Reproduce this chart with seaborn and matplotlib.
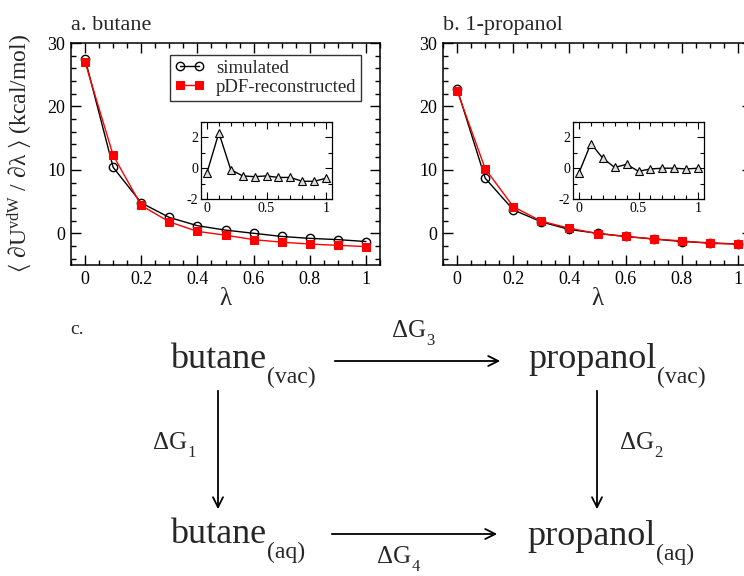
import matplotlib
matplotlib.use("Agg")
import matplotlib.pyplot as plt
import seaborn as sns
import numpy as np
import pandas as pd
from matplotlib.ticker import MultipleLocator

# ---------------- data ----------------
lam = [0.0, 0.1, 0.2, 0.3, 0.4, 0.5, 0.6, 0.7, 0.8, 0.9, 1.0]
butane_sim = [27.5, 10.4, 4.8, 2.5, 1.2, 0.5, 0.0, -0.5, -0.8, -1.0, -1.3]
butane_rec = [27.0, 12.3, 4.4, 1.8, 0.3, -0.3, -1.0, -1.4, -1.7, -1.9, -2.1]
butane_diff = [-0.3, 2.3, -0.1, -0.5, -0.55, -0.5, -0.6, -0.6, -0.85, -0.85, -0.65]
prop_sim = [22.8, 8.7, 3.7, 1.8, 0.6, 0.0, -0.5, -0.9, -1.3, -1.5, -1.7]
prop_rec = [22.5, 10.2, 4.2, 1.9, 0.8, -0.05, -0.5, -0.9, -1.2, -1.6, -1.7]
prop_diff = [-0.3, 1.6, 0.65, 0.05, 0.25, -0.2, -0.05, 0.0, 0.0, -0.05, 0.0]

panel_titles = ["a. butane", "b. 1-propanol"]
series_labels = ["simulated", "pDF-reconstructed"]
main_xticks = [0, 0.2, 0.4, 0.6, 0.8, 1.0]
main_xticklabels = ["0", "0.2", "0.4", "0.6", "0.8", "1"]
inset_xticks = [0, 0.5, 1.0]
inset_xticklabels = ["0", "0.5", "1"]
inset_yticks = [-2, 0, 2]
inset_yticklabels = ["-2", "0", "2"]

sns.set_style("ticks")
plt.rcParams["font.family"] = ["Liberation Serif", "DejaVu Serif"]
plt.rcParams["mathtext.fontset"] = "custom"
plt.rcParams["mathtext.rm"] = "Liberation Serif"
plt.rcParams["mathtext.it"] = "Liberation Serif:italic"
plt.rcParams["mathtext.fallback"] = "stix"
plt.rcParams["axes.linewidth"] = 1.1

W, H = 744, 576
fig = plt.figure(figsize=(W / 100, H / 100), dpi=100)


def fx(px):
    return px / W


def fy(py):
    return 1 - py / H


def style_axes(ax, major_len=7.5, minor_len=3.5, lsize=13, width=1.0):
    for s in ax.spines.values():
        s.set_visible(True)
        s.set_color("black")
    ax.tick_params(which="both", direction="in", top=True, right=True,
                   colors="black", width=width)
    ax.tick_params(which="major", length=major_len, labelsize=lsize, pad=4)
    ax.tick_params(which="minor", length=minor_len)


ax_w = 309 / W
ax_h = (265 - 43) / H
ax_a = fig.add_axes([fx(71), fy(265), ax_w, ax_h])
ax_b = fig.add_axes([fx(443), fy(265), ax_w, ax_h])

for ax, sim, rec, title in [(ax_a, butane_sim, butane_rec, panel_titles[0]),
                            (ax_b, prop_sim, prop_rec, panel_titles[1])]:
    sns.lineplot(x=lam, y=sim, ax=ax, color="black", lw=1.0, marker="o",
                 markersize=6, markerfacecolor="none", markeredgecolor="black",
                 markeredgewidth=1.0, label=series_labels[0], legend=False)
    sns.lineplot(x=lam, y=rec, ax=ax, color="red", lw=1.0, marker="s",
                 markersize=5.5, markerfacecolor="red", markeredgecolor="red",
                 label=series_labels[1], legend=False)
    ax.set_xlim(-0.05, 1.05)
    ax.set_ylim(-5, 30)
    ax.xaxis.set_minor_locator(MultipleLocator(0.05))
    ax.yaxis.set_major_locator(MultipleLocator(10))
    ax.yaxis.set_minor_locator(MultipleLocator(2))
    ax.set_xticks(main_xticks)
    ax.set_xticklabels(main_xticklabels)
    style_axes(ax)
    ax.set_xlabel("λ", fontsize=18, labelpad=0)
    ax.set_ylabel("")
    ax.text(0.0, 1.035, title, transform=ax.transAxes, ha="left",
            va="bottom", fontsize=16)

# y label
fig.text(fx(20), fy(153),
         r"$\langle$ ∂U$^{\mathrm{vdW}}$ / ∂λ $\rangle$ (kcal/mol)",
         rotation=90, ha="center", va="center", fontsize=17)

# legend
handles, labels = ax_a.get_legend_handles_labels()
leg = fig.legend(handles, labels, loc="upper right",
                 bbox_to_anchor=(fx(361), fy(55)), bbox_transform=fig.transFigure,
                 borderaxespad=0, fontsize=13.5, numpoints=2, handlelength=1.6,
                 frameon=True, fancybox=False, borderpad=0.25, labelspacing=0.1,
                 handletextpad=0.6)
leg.get_frame().set_edgecolor("black")
leg.get_frame().set_linewidth(1.0)

# insets
in_w = 131 / W
in_h = 77 / H
for left, diff in [(201, butane_diff), (573, prop_diff)]:
    ins = fig.add_axes([fx(left), fy(199), in_w, in_h])
    sns.lineplot(x=lam, y=diff, ax=ins, color="black", lw=1.0, marker="^",
                 markersize=6, markerfacecolor="#dddddd", markeredgecolor="black",
                 markeredgewidth=0.8, legend=False)
    ins.set_xlim(-0.05, 1.05)
    ins.set_ylim(-2, 3)
    ins.set_xticks(inset_xticks)
    ins.set_xticklabels(inset_xticklabels)
    ins.xaxis.set_minor_locator(MultipleLocator(0.1))
    ins.set_yticks(inset_yticks)
    ins.set_yticklabels(inset_yticklabels)
    ins.yaxis.set_minor_locator(MultipleLocator(1))
    style_axes(ins, major_len=5, minor_len=3, lsize=10, width=0.8)
    ins.tick_params(which="major", pad=2)
    for s in ins.spines.values():
        s.set_linewidth(0.9)

# ---------------- diagram ----------------
fig.canvas.draw()
renderer = fig.canvas.get_renderer()

main_size = 26
sub_size = 17
dg_size = 18
dg_sub = 12


def chem(px, pybase, main, sub, size, ssize, drop, gap=1):
    t = fig.text(fx(px), fy(pybase), main, ha="left", va="baseline", fontsize=size)
    bb = t.get_window_extent(renderer)
    fig.text((bb.x1 + gap) / W, fy(pybase + drop), sub, ha="left",
             va="baseline", fontsize=ssize)


chem(170, 368, "butane", "(vac)", main_size, sub_size, 15)
chem(528, 368, "propanol", "(vac)", main_size, sub_size, 15)
chem(170, 543, "butane", "(aq)", main_size, sub_size, 15)
chem(527, 545, "propanol", "(aq)", main_size, sub_size, 15)

chem(392, 337, "ΔG", "3", dg_size, dg_sub, 8, gap=0)
chem(153, 449, "ΔG", "1", dg_size, dg_sub, 8, gap=0)
chem(620, 449, "ΔG", "2", dg_size, dg_sub, 8, gap=0)
chem(377, 563, "ΔG", "4", dg_size, dg_sub, 8, gap=0)

fig.text(fx(70), fy(334), "c.", ha="left", va="baseline", fontsize=14)

arrow_kw = dict(arrowstyle="->,head_length=0.6,head_width=0.3", lw=1.3, color="black")
for (x0, y0, x1, y1) in [(332, 361, 503, 361), (329, 534, 500, 534),
                         (218, 388, 218, 512), (597, 388, 597, 512)]:
    fig.patches.append(matplotlib.patches.FancyArrowPatch(
        (fx(x0), fy(y0)), (fx(x1), fy(y1)), transform=fig.transFigure,
        mutation_scale=12, **arrow_kw))

fig.savefig("out.png", dpi=100)
